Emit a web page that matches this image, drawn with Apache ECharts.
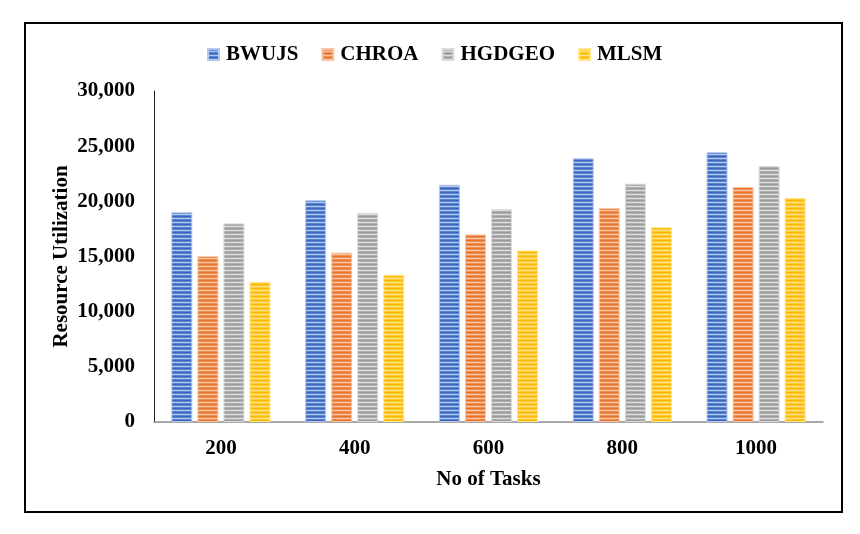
<!DOCTYPE html>
<html>
<head>
<meta charset="utf-8">
<script src="https://cdn.jsdelivr.net/npm/echarts@6/dist/echarts.min.js"></script>
<style>html,body{margin:0;padding:0;background:#fff;}#c{width:860px;height:534px;}</style>
</head>
<body>
<div id="c"></div>
<script>
var categories = ['200', '400', '600', '800', '1000'];
var seriesNames = ['BWUJS', 'CHROA', 'HGDGEO', 'MLSM'];
var BWUJS = [19000, 20100, 21500, 23900, 24450];
var CHROA = [15050, 15350, 17000, 19400, 21300];
var HGDGEO = [18000, 18950, 19300, 21600, 23200];
var MLSM = [12700, 13350, 15550, 17650, 20300];
var yTicks = [0, 5000, 10000, 15000, 20000, 25000, 30000];

var palette = [
  {dark: '#3A66BD', base: '#5A84D0', light: '#B5C8EE'},
  {dark: '#E8722A', base: '#F08F54', light: '#F8C6A6'},
  {dark: '#9A9A9A', base: '#B0B0B0', light: '#DCDCDC'},
  {dark: '#FDB900', base: '#FFC82E', light: '#FFE48F'}
];

function makePattern(p) {
  var cv = document.createElement('canvas');
  cv.width = 4; cv.height = 4;
  var ctx = cv.getContext('2d');
  var rows = [p.dark, p.base, p.light, p.base];
  for (var i = 0; i < rows.length; i++) {
    ctx.fillStyle = rows[i];
    ctx.fillRect(0, i, 4, 1);
  }
  return cv;
}

var dataSets = [BWUJS, CHROA, HGDGEO, MLSM];
var font = '"Liberation Serif", "Times New Roman", serif';

var series = seriesNames.map(function (name, i) {
  return {
    name: name,
    type: 'bar',
    data: dataSets[i],
    barWidth: 21,
    barGap: '24%',
    itemStyle: {
      color: {image: makePattern(palette[i]), repeat: 'repeat'},
      borderColor: palette[i].light,
      borderWidth: 1
    }
  };
});

var chart = echarts.init(document.getElementById('c'), null, {renderer: 'canvas'});
chart.setOption({
  animation: false,
  backgroundColor: '#fff',
  graphic: [{
    type: 'rect',
    shape: {x: 25, y: 23, width: 817, height: 489},
    style: {fill: 'none', stroke: '#000', lineWidth: 2},
    silent: true
  }],
  legend: {
    data: seriesNames,
    top: 39,
    left: 202,
    itemWidth: 11,
    itemHeight: 11,
    itemGap: 23,
    icon: 'rect',
    textStyle: {fontFamily: font, fontWeight: 'bold', fontSize: 21, color: '#000', padding: [0, 0, 0, 2]}
  },
  grid: {left: 154, right: 37, top: 91, bottom: 112, containLabel: false},
  xAxis: {
    type: 'category',
    data: categories,
    name: 'No of Tasks',
    nameLocation: 'middle',
    nameGap: 47,
    nameTextStyle: {fontFamily: font, fontWeight: 'bold', fontSize: 21, color: '#000'},
    axisLine: {lineStyle: {color: '#8C8C8C', width: 1.5}},
    axisTick: {show: false},
    axisLabel: {fontFamily: font, fontWeight: 'bold', fontSize: 21, color: '#000', margin: 16}
  },
  yAxis: {
    type: 'value',
    min: 0,
    max: 30000,
    interval: 5000,
    name: 'Resource Utilization',
    nameLocation: 'middle',
    nameGap: 82,
    nameMoveOverlap: false,
    nameTextStyle: {fontFamily: font, fontWeight: 'bold', fontSize: 21, color: '#000'},
    axisLine: {show: true, lineStyle: {color: '#222', width: 1}},
    axisTick: {show: false},
    splitLine: {show: false},
    axisLabel: {
      fontFamily: font, fontWeight: 'bold', fontSize: 21, color: '#000', margin: 19,
      customValues: yTicks,
      formatter: function (v) { return Number(v).toLocaleString('en-US'); }
    }
  },
  series: series
});
</script>
</body>
</html>
